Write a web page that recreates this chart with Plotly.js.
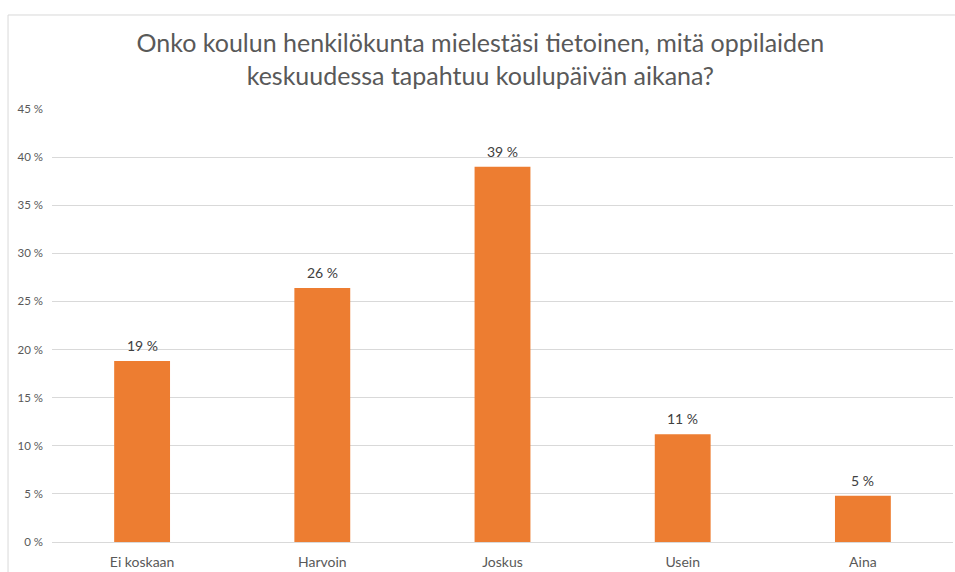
<!DOCTYPE html>
<html>
<head>
<meta charset="utf-8">
<script src="https://cdn.plot.ly/plotly-3.0.1.min.js"></script>
<style>html,body{margin:0;padding:0;background:#fff}#chart{width:955px;height:572px}</style>
</head>
<body>
<div id="chart"></div>
<script>
const categories = ["Ei koskaan", "Harvoin", "Joskus", "Usein", "Aina"];
const values = [18.8, 26.4, 39.0, 11.2, 4.8];
const yTicks = [0, 5, 10, 15, 20, 25, 30, 35, 40, 45];
const titleText = "Onko koulun henkilökunta mielestäsi tietoinen, mitä oppilaiden<br>keskuudessa tapahtuu koulupäivän aikana?";

const fontFam = "Lato, 'Noto Sans', sans-serif";

const trace = {
  type: "bar",
  x: categories,
  y: values,
  width: 0.31,
  marker: {color: "#ED7D31"},
  hoverinfo: "x+y"
};

const labels = categories.map((c, i) => ({
  x: c, y: values[i], xref: "x", yref: "y",
  text: Math.round(values[i]) + " %",
  showarrow: false, yanchor: "bottom", yshift: 5,
  font: {family: fontFam, size: 14, color: "#404040"}
}));

const layout = {
  width: 955, height: 572,
  margin: {l: 52, r: 2, t: 109, b: 30, pad: 0},
  paper_bgcolor: "#ffffff",
  plot_bgcolor: "#ffffff",
  showlegend: false,
  title: {
    text: titleText,
    font: {family: fontFam, size: 25, color: "#595959"},
    x: 0.503, xanchor: "center",
    xref: "container", yref: "container",
    y: 1 - 52/572, yanchor: "top"
  },
  xaxis: {
    type: "category",
    showgrid: false,
    showline: false,
    ticks: "",
    tickfont: {family: fontFam, size: 14, color: "#595959"},
    ticklabelstandoff: 10,
    fixedrange: true
  },
  yaxis: {
    range: [0, 45],
    tickvals: yTicks,
    ticktext: yTicks.map(v => v + " %"),
    showgrid: true,
    gridcolor: "#d9d9d9",
    gridwidth: 1,
    zeroline: true,
    zerolinecolor: "#d9d9d9",
    zerolinewidth: 1,
    showline: false,
    ticks: "",
    tickfont: {family: fontFam, size: 11.5, color: "#595959"},
    ticklabelstandoff: 8,
    fixedrange: true
  },
  annotations: labels,
  shapes: [
    {type: "line", xref: "paper", yref: "paper", x0: -0.0488, x1: 1.0022, y0: 1.2171, y1: 1.2171,
     line: {color: "#d9d9d9", width: 1}},
    {type: "line", xref: "paper", yref: "paper", x0: -0.0488, x1: -0.0488, y0: 1.2171, y1: -0.0693,
     line: {color: "#d9d9d9", width: 1}}
  ]
};

Plotly.newPlot("chart", [trace], layout, {displayModeBar: false, staticPlot: true});
</script>
</body>
</html>
